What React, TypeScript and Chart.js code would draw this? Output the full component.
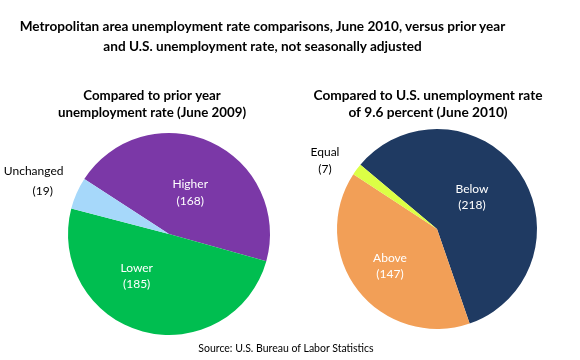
import React, { useEffect, useRef } from "react";
import { Chart, registerables } from "chart.js";

Chart.register(...registerables);

const leftCategories = ["Higher", "Lower", "Unchanged"];
const leftValues = [168, 185, 19];
const leftColors = ["#7B38A7", "#00BE50", "#A6D8FA"];

const rightCategories = ["Below", "Above", "Equal"];
const rightValues = [218, 147, 7];
const rightColors = ["#1F3A62", "#F29F57", "#DCFF45"];

const mainTitle = [
  "Metropolitan area unemployment rate comparisons, June 2010, versus prior year",
  "and U.S. unemployment rate, not seasonally adjusted",
];
const leftSubtitle = ["Compared to prior year", "unemployment rate (June 2009)"];
const rightSubtitle = ["Compared to U.S. unemployment rate", "of 9.6 percent (June 2010)"];
const sourceText = "Source: U.S. Bureau of Labor Statistics";

const FONT = "Lato, 'Liberation Sans', sans-serif";

type LinePos = { dx: number; dy: number; color: string };

function makePie(
  canvas: HTMLCanvasElement,
  categories: string[],
  values: number[],
  colors: string[],
  rotation: number,
  padding: { left: number; right: number; top: number; bottom: number },
  subtitle: string[],
  subtitleX: number,
  subtitleSize: number,
  labelPos: LinePos[][]
) {
  const labelPlugin = {
    id: "sliceLabels",
    afterDatasetsDraw(chart: any) {
      const ctx = chart.ctx as CanvasRenderingContext2D;
      const meta = chart.getDatasetMeta(0);
      ctx.save();
      ctx.textAlign = "center";
      ctx.textBaseline = "middle";
      meta.data.forEach((arc: any, i: number) => {
        const p = arc.getProps(["x", "y", "outerRadius"], true);
        const lines = [categories[i], "(" + values[i] + ")"];
        lines.forEach((txt, j) => {
          const lp = labelPos[i][j];
          ctx.fillStyle = lp.color;
          ctx.font = "12px " + FONT;
          ctx.fillText(txt, p.x + lp.dx * p.outerRadius, p.y + lp.dy * p.outerRadius);
        });
      });
      ctx.fillStyle = "#000";
      ctx.font = "bold " + subtitleSize + "px " + FONT;
      subtitle.forEach((s, k) => {
        ctx.fillText(s, subtitleX, 96 + k * 17);
      });
      ctx.restore();
    },
  };

  return new Chart(canvas, {
    type: "pie",
    data: {
      labels: categories,
      datasets: [
        {
          data: values,
          backgroundColor: colors,
          borderWidth: 0,
        },
      ],
    },
    options: {
      responsive: false,
      animation: false,
      rotation,
      layout: { padding },
      plugins: {
        legend: { display: false },
        tooltip: { enabled: false },
        title: { display: false },
      },
    },
    plugins: [labelPlugin],
  });
}

export default function App() {
  const leftRef = useRef<HTMLCanvasElement>(null);
  const rightRef = useRef<HTMLCanvasElement>(null);

  useEffect(() => {
    const left = makePie(
      leftRef.current!,
      leftCategories,
      leftValues,
      leftColors,
      -57,
      { left: 68, right: 20, top: 133, bottom: 25 },
      leftSubtitle,
      152,
      13.3,
      [
        [
          { dx: 0.21, dy: -0.49, color: "#fff" },
          { dx: 0.21, dy: -0.33, color: "#fff" },
        ],
        [
          { dx: -0.32, dy: 0.34, color: "#fff" },
          { dx: -0.32, dy: 0.5, color: "#fff" },
        ],
        [
          { dx: -1.34, dy: -0.62, color: "#000" },
          { dx: -1.25, dy: -0.42, color: "#000" },
        ],
      ]
    );
    const right = makePie(
      rightRef.current!,
      rightCategories,
      rightValues,
      rightColors,
      -50,
      { left: 47, right: 43, top: 129, bottom: 31 },
      rightSubtitle,
      138,
      13.7,
      [
        [
          { dx: 0.35, dy: -0.4, color: "#fff" },
          { dx: 0.35, dy: -0.24, color: "#fff" },
        ],
        [
          { dx: -0.47, dy: 0.29, color: "#fff" },
          { dx: -0.47, dy: 0.45, color: "#fff" },
        ],
        [
          { dx: -1.12, dy: -0.77, color: "#000" },
          { dx: -1.12, dy: -0.6, color: "#000" },
        ],
      ]
    );
    return () => {
      left.destroy();
      right.destroy();
    };
  }, []);

  return (
    <div
      style={{
        position: "fixed",
        left: 0,
        top: 0,
        width: 580,
        height: 360,
        background: "#fff",
        fontFamily: FONT,
      }}
    >
      <canvas
        ref={leftRef}
        width={290}
        height={360}
        style={{ position: "absolute", left: 0, top: 0 }}
      />
      <canvas
        ref={rightRef}
        width={290}
        height={360}
        style={{ position: "absolute", left: 290, top: 0 }}
      />
      <div
        style={{
          position: "absolute",
          left: 0,
          top: 16,
          width: 525,
          textAlign: "center",
          fontWeight: "bold",
          fontSize: 13.6,
          lineHeight: "20px",
          color: "#000",
        }}
      >
        {mainTitle.map((t, i) => (
          <div key={i}>{t}</div>
        ))}
      </div>
      <div
        style={{
          position: "absolute",
          left: 0,
          top: 341,
          width: 572,
          textAlign: "center",
          fontSize: 10.5,
          lineHeight: "14px",
          color: "#000",
        }}
      >
        {sourceText}
      </div>
    </div>
  );
}
